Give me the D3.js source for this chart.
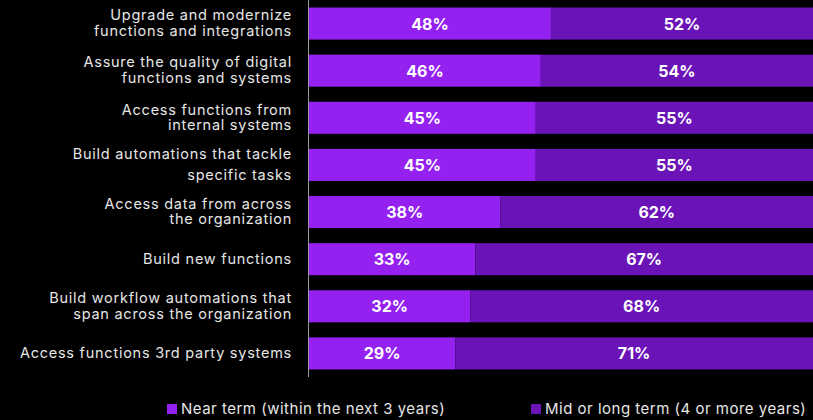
<!DOCTYPE html>
<html>
<head lang="en">
    <meta charset="UTF-8">
    <title></title>
    <style>
        body { margin: 0; background: #000; }
        svg { display: block; background: #000; }
    </style>
</head>
<body>
<svg width="813" height="420"></svg>
<script src="https://cdn.jsdelivr.net/npm/d3@7"></script>
<script>
    // categories, top to bottom (each entry = lines of the label)
    var categories = [
        ["Upgrade and modernize", "functions and integrations"],
        ["Assure the quality of digital", "functions and systems"],
        ["Access functions from", "internal systems"],
        ["Build automations that tackle", "specific tasks"],
        ["Access data from across", "the organization"],
        ["Build new functions"],
        ["Build workflow automations that", "span across the organization"],
        ["Access functions 3rd party systems"]
    ];
    var nearTerm = [48, 46, 45, 45, 38, 33, 32, 29];
    var midLongTerm = [52, 54, 55, 55, 62, 67, 68, 71];
    var seriesNames = ["Near term (within the next 3 years)", "Mid or long term (4 or more years)"];

    var svg = d3.select("svg"),
        WIDTH = +svg.attr("width"),
        HEIGHT = +svg.attr("height");

    var colors = ["#9421f0", "#6a14b8"];

    var data = categories.map(function (c, i) {
        return {key: i, label: c, near: nearTerm[i], mid: midLongTerm[i]};
    });

    var stack = d3.stack().keys(["near", "mid"]);
    var series = stack(data);

    var xScale = d3.scaleLinear().domain([0, 100]).range([309, WIDTH]);
    var yScale = d3.scaleBand()
        .domain(data.map(function (d) { return d.key; }))
        .range([0, 377])
        .paddingInner(0.32)
        .paddingOuter(0.16);

    // bars
    var layers = svg.selectAll("g.layer")
        .data(series)
        .enter().append("g")
        .attr("class", "layer")
        .attr("fill", function (d, i) { return colors[i]; });

    layers.selectAll("rect")
        .data(function (d) { return d; })
        .enter().append("rect")
        .attr("x", function (d) { return xScale(d[0]); })
        .attr("y", function (d) { return yScale(d.data.key); })
        .attr("width", function (d) { return xScale(d[1]) - xScale(d[0]); })
        .attr("height", yScale.bandwidth());

    // value labels
    layers.selectAll("text")
        .data(function (d) { return d; })
        .enter().append("text")
        .attr("x", function (d) { return (xScale(d[0]) + xScale(d[1])) / 2; })
        .attr("y", function (d) { return yScale(d.data.key) + yScale.bandwidth() / 2 + 6; })
        .attr("text-anchor", "middle")
        .attr("fill", "#fff")
        .style("font-family", "Inter, sans-serif")
        .style("font-weight", "700")
        .style("font-size", "16px")
        .text(function (d) { return (d[1] - d[0]) + "%"; });

    // axis line
    svg.append("line")
        .attr("x1", 308.5).attr("x2", 308.5)
        .attr("y1", 0).attr("y2", 377)
        .attr("stroke", "#9a9a9a")
        .attr("stroke-width", 1);

    // category labels
    var labels = svg.selectAll("text.cat")
        .data(data)
        .enter().append("text")
        .attr("class", "cat")
        .attr("text-anchor", "end")
        .attr("fill", "#e6e6e6")
        .style("font-family", "Inter, sans-serif")
        .style("font-size", "14.5px")
        .style("letter-spacing", "0.75px");

    labels.each(function (d) {
        var n = d.label.length;
        var lh = d.key === 3 ? 21 : 15.5;   // this one is spaced out in the original
        var cy = yScale(d.key) + yScale.bandwidth() / 2;
        d3.select(this).selectAll("tspan")
            .data(d.label)
            .enter().append("tspan")
            .attr("x", 292)
            .attr("y", function (t, i) { return cy + 4.5 + (i - (n - 1) / 2) * lh; })
            .text(function (t) { return t; });
    });

    // legend
    var legendX = [167, 531];
    var legend = svg.selectAll("g.legend")
        .data(seriesNames)
        .enter().append("g")
        .attr("class", "legend")
        .attr("transform", function (d, i) { return "translate(" + legendX[i] + ",404)"; });

    legend.append("rect")
        .attr("width", 10).attr("height", 10)
        .attr("fill", function (d, i) { return colors[i]; });

    legend.append("text")
        .attr("x", 14).attr("y", 10)
        .attr("fill", "#e6e6e6")
        .style("font-family", "Inter, sans-serif")
        .style("font-size", "15px")
        .style("letter-spacing", "0.5px")
        .text(function (d) { return d; });
</script>
</body>
</html>
